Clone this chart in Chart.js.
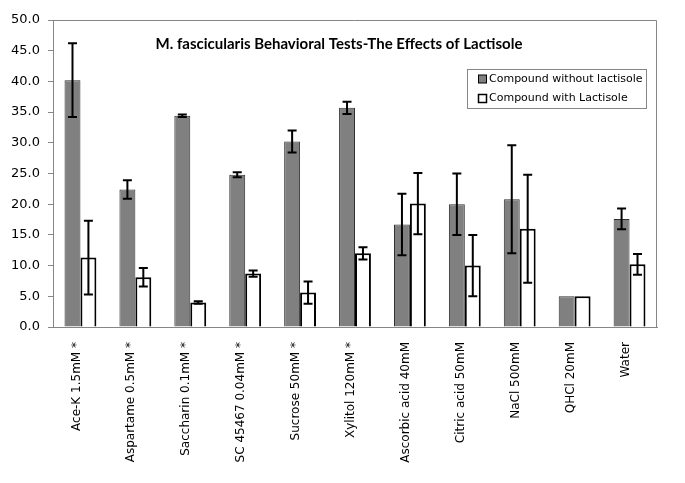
<!DOCTYPE html>
<html>
<head>
<meta charset="utf-8">
<script src="https://cdn.jsdelivr.net/npm/chart.js@4.4.1/dist/chart.umd.min.js"></script>
<style>
	html, body { margin: 0; padding: 0; background: #fff; }
	#wrap { width: 685px; height: 483px; }
</style>
</head>
<body>
<div id="wrap"><canvas id="chart"></canvas></div>
<script>
const title = 'M. fascicularis Behavioral Tests-The Effects of Lactisole'
const categories = [
	'Ace-K 1.5mM *',
	'Aspartame 0.5mM *',
	'Saccharin 0.1mM *',
	'SC 45467 0.04mM *',
	'Sucrose 50mM *',
	'Xylitol 120mM *',
	'Ascorbic acid 40mM',
	'Citric acid 50mM',
	'NaCl 500mM',
	'QHCl 20mM',
	'Water',
]
const withoutLactisole = [40.2, 22.4, 34.4, 24.8, 30.2, 35.7, 16.7, 20.0, 20.8, 5.0, 17.6]
const withLactisole = [11.3, 8.1, 4.0, 8.7, 5.6, 12.0, 20.1, 10.0, 16.0, 5.0, 10.2]
const errWithout = [6.0, 1.5, 0.2, 0.4, 1.8, 1.0, 5.0, 5.0, 8.8, 0, 1.7]
const errWith = [6.0, 1.5, 0.2, 0.5, 1.8, 1.0, 5.0, 5.0, 8.8, 0, 1.7]
const yTicks = [0, 5, 10, 15, 20, 25, 30, 35, 40, 45, 50]

const axisGray = '#868686'

// error bars, frame, title and boxed legend drawn on top of the chart
const extras = {
	id: 'extras',
	afterDatasetsDraw(chart) {
		const ctx = chart.ctx
		const y = chart.scales.y
		ctx.save()
		ctx.strokeStyle = '#000'
		ctx.lineWidth = 2
		chart.data.datasets.forEach((ds, i) => {
			const meta = chart.getDatasetMeta(i)
			meta.data.forEach((bar, j) => {
				const e = ds.errors[j]
				if (!e) return
				const top = y.getPixelForValue(ds.data[j] + e)
				const bot = y.getPixelForValue(ds.data[j] - e)
				ctx.beginPath()
				ctx.moveTo(bar.x, top)
				ctx.lineTo(bar.x, bot)
				ctx.moveTo(bar.x - 4.5, top)
				ctx.lineTo(bar.x + 4.5, top)
				ctx.moveTo(bar.x - 4.5, bot)
				ctx.lineTo(bar.x + 4.5, bot)
				ctx.stroke()
			})
		})
		ctx.restore()
	},
	afterDraw(chart) {
		const ctx = chart.ctx
		const a = chart.chartArea
		ctx.save()
		// top and right sides of the plot frame
		ctx.strokeStyle = axisGray
		ctx.lineWidth = 1
		ctx.beginPath()
		ctx.moveTo(a.left, a.top + 0.5)
		ctx.lineTo(a.right - 0.5, a.top + 0.5)
		ctx.lineTo(a.right - 0.5, a.bottom)
		ctx.stroke()

		// title
		ctx.fillStyle = '#000'
		ctx.font = 'bold 15px Lato'
		ctx.textAlign = 'center'
		ctx.textBaseline = 'middle'
		ctx.fillText(title, 339, 44)

		// legend box
		ctx.strokeStyle = axisGray
		ctx.strokeRect(467.5, 69.5, 179, 39)
		ctx.font = '11px "DejaVu Sans"'
		ctx.textAlign = 'left'
		chart.data.datasets.forEach((ds, i) => {
			const ly = 79 + i * 19.5
			ctx.fillStyle = ds.backgroundColor
			ctx.fillRect(478.5, ly - 4, 8, 8)
			ctx.strokeStyle = '#000'
			ctx.lineWidth = i === 0 ? 1 : 1.5
			ctx.strokeRect(478.5, ly - 4, 8, 8)
			ctx.fillStyle = '#000'
			ctx.fillText(ds.label, 489, ly)
		})
		ctx.restore()
	},
}

new Chart(document.getElementById('chart'), {
	type: 'bar',
	data: {
		labels: categories,
		datasets: [
			{
				label: 'Compound without lactisole',
				data: withoutLactisole,
				errors: errWithout,
				backgroundColor: '#808080',
				borderColor: '#303030',
				borderWidth: 1,
				categoryPercentage: 0.58,
				barPercentage: 1.0,
			},
			{
				label: 'Compound with Lactisole',
				data: withLactisole,
				errors: errWith,
				backgroundColor: '#ffffff',
				borderColor: '#000000',
				borderWidth: 2,
				categoryPercentage: 0.58,
				barPercentage: 1.0,
			},
		],
	},
	options: {
		responsive: true,
		maintainAspectRatio: false,
		animation: false,
		layout: { padding: { left: 11, right: 28, top: 20, bottom: 6 } },
		plugins: {
			legend: { display: false },
			title: { display: false },
			tooltip: { enabled: false },
		},
		scales: {
			x: {
				afterFit: (scale) => { scale.height = 150 },
				grid: { display: false, drawTicks: false },
				border: { display: true, color: axisGray, width: 1 },
				ticks: {
					minRotation: 90,
					maxRotation: 90,
					autoSkip: false,
					padding: 15,
					labelOffset: -4,
					color: '#000',
					font: { family: 'DejaVu Sans', size: 12 },
				},
			},
			y: {
				min: 0,
				max: 50,
				afterFit: (scale) => { scale.width = 42 },
				afterBuildTicks: (scale) => { scale.ticks = yTicks.map((v) => ({ value: v })) },
				grid: {
					drawOnChartArea: false,
					drawTicks: true,
					tickLength: 5,
					color: axisGray,
				},
				border: { display: true, color: axisGray, width: 1 },
				ticks: {
					padding: 8,
					color: '#000',
					font: { family: 'DejaVu Sans', size: 13 },
					callback: (v) => Number(v).toFixed(1),
				},
			},
		},
	},
	plugins: [extras],
})
</script>
</body>
</html>
